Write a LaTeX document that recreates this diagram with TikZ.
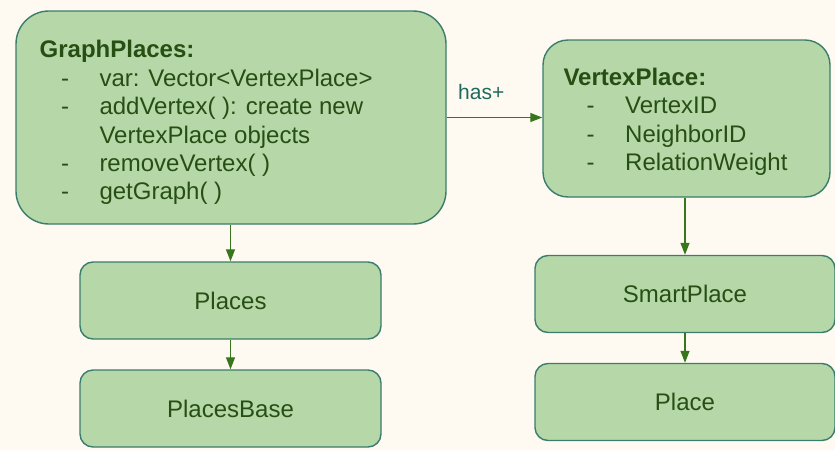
\documentclass[tikz,border=0pt]{standalone}
\usepackage{fontspec}
\setmainfont{Liberation Sans}
\usetikzlibrary{arrows.meta}
\definecolor{bgcream}{HTML}{FFFAF1}
\definecolor{boxfill}{HTML}{B6D7A8}
\definecolor{boxline}{HTML}{3A7D6C}
\definecolor{txtgreen}{HTML}{274E13}
\definecolor{arrgreen}{HTML}{38761D}
\definecolor{labteal}{HTML}{1E6B5E}
\tikzset{
  box/.style={draw=boxline, fill=boxfill, line width=1.4pt, rectangle, inner sep=0pt},
  smallbox/.style={box, rounded corners=13pt, minimum width=301pt, minimum height=77pt,
    text=txtgreen, font=\fontsize{24}{28}\selectfont},
  txt/.style={inner sep=0pt, anchor=base west, text=txtgreen, font=\fontsize{24}{28}\selectfont},
  conn/.style={draw=arrgreen, line width=1.3pt, -{Triangle[length=12pt,width=9pt]}},
}
\begin{document}
\begin{tikzpicture}[x=1pt, y=-1pt]
\fill[bgcream] (0,0) rectangle (835,450);
\useasboundingbox (0,0) rectangle (835,450);

% class boxes
\node[box, rounded corners=33pt, minimum width=430pt, minimum height=213pt] (gp) at (231,117.5) {};
\node[box, rounded corners=25pt, minimum width=287pt, minimum height=157pt] (vp) at (686.5,118.5) {};
\node[smallbox] (pl) at (230.5,300.5) {Places};
\node[smallbox] (pb) at (230.5,408.5) {PlacesBase};
\node[smallbox, minimum width=300pt] (sp) at (685,294) {SmartPlace};
\node[smallbox, minimum width=300pt] (pc) at (685,402) {Place};

% GraphPlaces members
\node[txt] (gpT) at (39.5,57) {\bfseries GraphPlaces:};
\node[txt] (gpD1) at (61,86) {-};
\node[txt] (gpL1) at (99.3,86) {var: Vector<VertexPlace>};
\node[txt] (gpD2) at (61,114.5) {-};
\node[txt] (gpL2) at (99.3,114.5) {addVertex( ): create new};
\node[txt] (gpL3) at (99.3,143) {VertexPlace objects};
\node[txt] (gpD4) at (61,171) {-};
\node[txt] (gpL4) at (99.3,171) {removeVertex( )};
\node[txt] (gpD5) at (61,199.5) {-};
\node[txt] (gpL5) at (99.3,199.5) {getGraph( )};

% VertexPlace members
\node[txt] (vpT) at (563.3,85) {\bfseries VertexPlace:};
\node[txt] (vpD1) at (586.5,113.5) {-};
\node[txt] (vpL1) at (625,113.5) {VertexID};
\node[txt] (vpD2) at (586.5,142) {-};
\node[txt] (vpL2) at (625,142) {NeighborID};
\node[txt] (vpD3) at (586.5,170) {-};
\node[txt] (vpL3) at (625,170) {RelationWeight};

% connectors
\draw[conn] (gp.east) -- (gp.east -| vp.west);
\node[inner sep=0pt, anchor=base west, text=labteal, font=\fontsize{21}{24}\selectfont] (has) at (458,99) {has+};
\draw[conn] (gp.south -| pl.north) -- (pl.north);
\draw[conn] (pl.south) -- (pb.north);
\draw[conn] (vp.south -| sp.north) -- (sp.north);
\draw[conn] (sp.south) -- (pc.north);
\end{tikzpicture}
\end{document}
